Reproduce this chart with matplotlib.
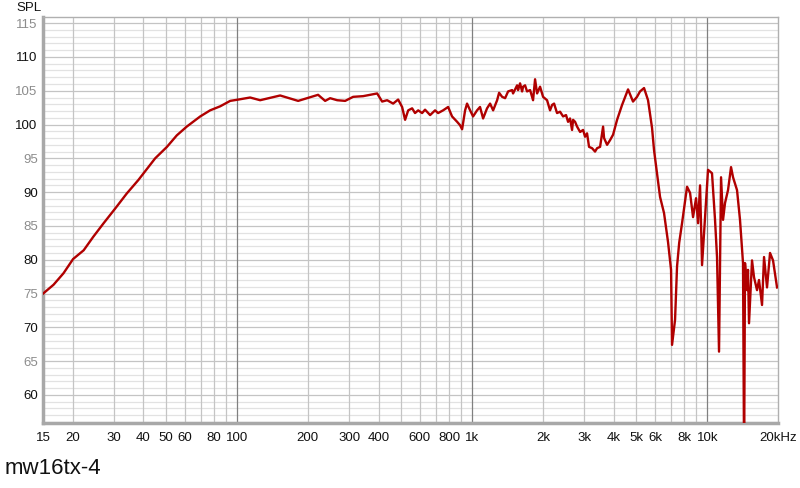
import numpy as np
import matplotlib.pyplot as plt
from matplotlib.ticker import FixedLocator, NullFormatter, NullLocator

### Dados (Hz, dB SPL)

freq = [15.0, 16.6, 18.3, 20.1, 22.3, 24.5, 27.1, 30.4, 34.0, 38.1,
        44.9, 50.4, 55.5, 61.2, 69.8, 76.9, 84.9, 93.6, 101.5, 113.8,
        125.5, 152.7, 182.1, 221.4, 237.2, 249.1, 266.9, 288.5, 312, 344,
        394.8, 414.5, 435.3, 461.6, 484.8, 504, 519, 535, 556, 572,
        590, 613, 631, 663, 696, 717, 753, 791, 822, 864,
        889, 907, 934, 952, 981, 1010, 1050, 1081, 1114, 1158,
        1193, 1229, 1278, 1303, 1342, 1382, 1423, 1480, 1494, 1554,
        1569, 1600, 1632, 1648, 1680, 1713, 1765, 1817, 1853, 1890,
        1946, 2004, 2084, 2146, 2189, 2232, 2298, 2367, 2438, 2510,
        2560, 2610, 2662, 2689, 2742, 2796, 2880, 2965, 3024, 3083,
        3144, 3238, 3334, 3401, 3503, 3607, 3642, 3751, 3863, 3978,
        4137, 4344, 4606, 4836, 5029, 5180, 5387, 5602,
        5826, 5941, 6117, 6300, 6552, 6814, 7018, 7086, 7298, 7442,
        7600, 7815, 8208, 8453, 8705, 8965, 9142, 9323, 9506, 9788,
        10080, 10480, 10795, 11008, 11226, 11450, 11676, 11907, 12260, 12627,
        12877, 13389, 13786, 14199, 14350, 14480, 14766, 14910, 15058, 15508,
        15815, 16285, 16607, 17104, 17443, 17962, 18499, 19050, 19812]

spl = [75.0, 76.3, 78.0, 80.1, 81.4, 83.4, 85.4, 87.6, 89.8, 91.8,
       95.0, 96.7, 98.4, 99.7, 101.2, 102.1, 102.7, 103.5, 103.7, 104.0,
       103.6, 104.3, 103.5, 104.4, 103.5, 103.9, 103.6, 103.5, 104.1, 104.2,
       104.6, 103.4, 103.6, 103.1, 103.7, 102.6, 100.7, 102.1, 102.4, 101.7,
       102.1, 101.7, 102.2, 101.4, 102.1, 101.7, 102.1, 102.6, 101.2, 100.4,
       99.9, 99.3, 102.1, 103.1, 102.1, 101.2, 102.1, 102.6, 100.9, 102.4,
       103.1, 102.1, 103.6, 104.7, 104.1, 103.9, 104.9, 105.1, 104.6, 105.8,
       105.1, 106.1, 104.9, 105.6, 105.8, 104.9, 105.1, 103.6, 106.7, 104.6,
       105.6, 104.1, 103.6, 102.1, 102.9, 103.1, 101.7, 101.9, 101.2, 101.4,
       100.4, 100.9, 99.2, 100.7, 100.4, 99.7, 98.9, 99.2, 98.2, 98.7,
       96.7, 96.5, 96.0, 96.5, 96.7, 99.7, 98.0, 97.0, 97.7, 98.5,
       100.7, 102.9, 105.2, 103.4, 104.1, 104.9, 105.4, 103.6,
       99.5, 96.2, 92.8, 89.3, 86.9, 82.6, 78.5, 67.4, 71.1, 79.0,
       82.5, 85.4, 90.8, 89.9, 86.3, 89.1, 85.4, 91.0, 79.2, 86.3,
       93.3, 92.8, 85.9, 80.4, 66.4, 92.2, 85.9, 88.4, 90.3, 93.7,
       92.2, 90.3, 85.9, 79.5, 50.0, 79.5, 75.5, 78.5, 70.6, 79.9,
       77.4, 75.5, 77.0, 73.3, 80.4, 75.9, 81.0, 79.9, 75.9]

x_ticks = [15, 20, 30, 40, 50, 60, 80, 100, 200, 300, 400, 600, 800,
           1000, 2000, 3000, 4000, 5000, 6000, 8000, 10000, 20000]
x_labels = ['15', '20', '30', '40', '50', '60', '80', '100', '200', '300',
            '400', '600', '800', '1k', '2k', '3k', '4k', '5k', '6k', '8k',
            '10k', '20kHz']
y_ticks = [60, 65, 70, 75, 80, 85, 90, 95, 100, 105, 110, 115]

plt.rcParams['font.family'] = ['Liberation Sans', 'DejaVu Sans']

fig = plt.figure(figsize=(8, 4.88), dpi=100)
ax = fig.add_axes([0.054, 0.134, 0.9185, 0.831])

# grade
grid_x = [f * d for d in (10, 100, 1000) for f in range(2, 10)] + [20000]
grid_x = [g for g in grid_x if g < 20000]
for g in grid_x:
    ax.axvline(g, color='#c4c4c4', lw=0.9, zorder=1)
for g in (100, 1000, 10000):
    ax.axvline(g, color='#808080', lw=0.9, zorder=1)
for v in range(56, 116):
    ax.axhline(v, color='#c4c4c4' if v % 5 == 0 else '#e2e2e2', lw=0.9, zorder=0)

ax.plot(freq, spl, color='#b00000', lw=1.7, zorder=3, solid_joinstyle='round')

ax.set_xscale('log')
ax.set_xlim(15, 20000)
ax.set_ylim(55.9, 115.9)

ax.xaxis.set_major_locator(FixedLocator(x_ticks))
ax.set_xticklabels(x_labels)
ax.xaxis.set_minor_locator(NullLocator())
ax.xaxis.set_minor_formatter(NullFormatter())
ax.set_yticks(y_ticks)
ax.set_yticklabels([str(v) for v in y_ticks])
ax.tick_params(axis='both', length=0, labelsize=9.5, colors='#111111')
ax.tick_params(axis='x', pad=7)
ax.tick_params(axis='y', pad=4)
for lab, v in zip(ax.get_yticklabels(), y_ticks):
    lab.set_color('#111111' if v % 10 == 0 else '#8c8c8c')

for s in ('top', 'right'):
    ax.spines[s].set_color('#b0b0b0')
    ax.spines[s].set_linewidth(1.0)
for s in ('left', 'bottom'):
    ax.spines[s].set_color('#a8a8a8')
    ax.spines[s].set_linewidth(2.5)

fig.text(0.021, 0.995, 'SPL', fontsize=9.5, color='#111111', va='top', ha='left')
fig.text(0.006, 0.018, 'mw16tx-4', fontsize=16, color='#111111', va='bottom', ha='left')

fig.savefig('out.png', dpi=100)
